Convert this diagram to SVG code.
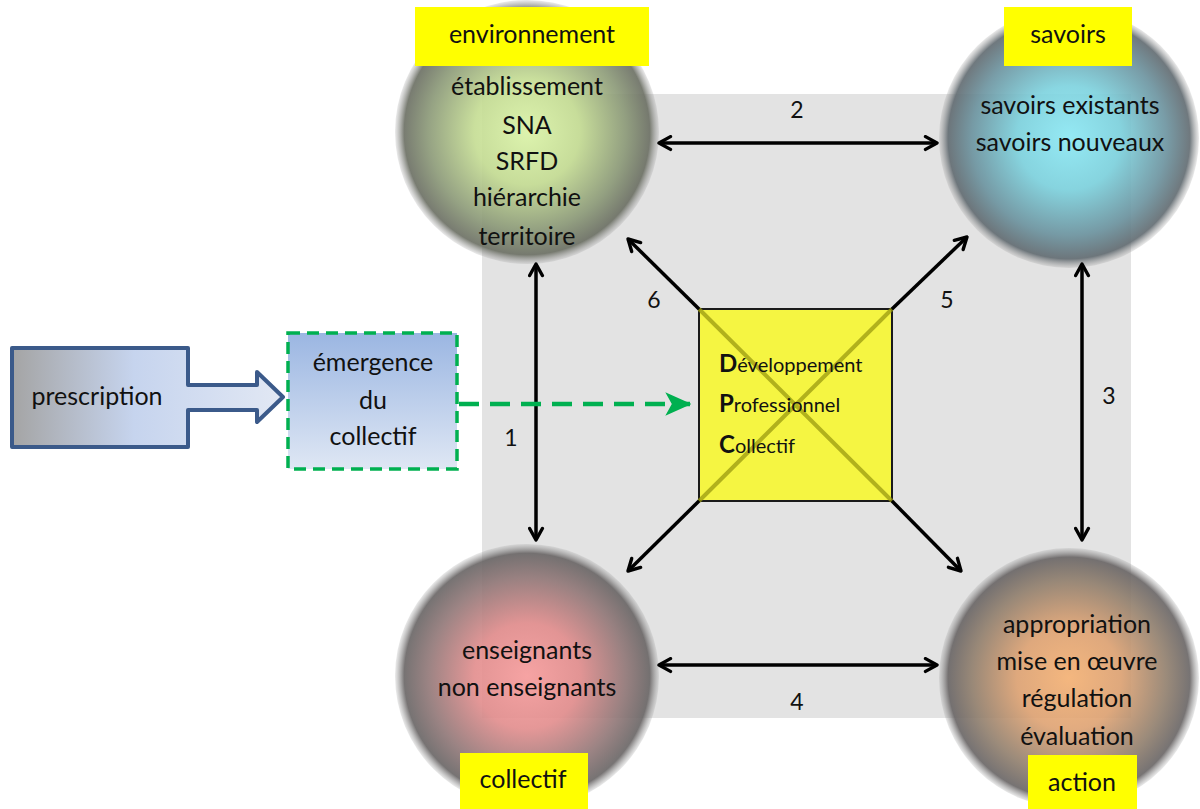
<svg xmlns="http://www.w3.org/2000/svg" width="1200" height="809" viewBox="0 0 1200 809">
<defs>
<style>
text{font-family:Lato,"Liberation Sans",sans-serif;fill:#111;text-anchor:middle}
.t{font-size:25px}
.n{font-size:23px}
.lab{fill:#ffff00}
.ball{fill-opacity:0.9}
.arr{stroke:#000;stroke-width:3.5;fill:none;marker-start:url(#ah);marker-end:url(#ah)}
.one{stroke:#000;stroke-width:3.5;fill:none;marker-end:url(#ah)}
</style>
<marker id="ah" viewBox="0 0 20 20" refX="17.5" refY="10" markerWidth="17" markerHeight="17" orient="auto-start-reverse" markerUnits="userSpaceOnUse">
<path d="M4,2.5 L17.5,10 L4,17.5" fill="none" stroke="#000" stroke-width="4" stroke-linecap="round" stroke-linejoin="round"/>
</marker>
<marker id="gh" viewBox="0 0 10 10" refX="9.5" refY="5" markerWidth="26" markerHeight="26" orient="auto" markerUnits="userSpaceOnUse">
<path d="M0,0.5 L10,5 L0,9.5 L2.5,5 Z" fill="#00b050"/>
</marker>
<radialGradient id="gEnv" cx="0.5" cy="0.5" r="0.5">
<stop offset="0" stop-color="#dcf5a8"/>
<stop offset="0.4" stop-color="#c4dc92"/>
<stop offset="0.75" stop-color="#8a9876"/>
<stop offset="0.93" stop-color="#6a6e62"/>
<stop offset="1" stop-color="#909090" stop-opacity="0.2"/>
</radialGradient>
<radialGradient id="gSav" cx="0.5" cy="0.5" r="0.5">
<stop offset="0" stop-color="#8ceaf6"/>
<stop offset="0.4" stop-color="#7cd2de"/>
<stop offset="0.75" stop-color="#6a929e"/>
<stop offset="0.93" stop-color="#606a70"/>
<stop offset="1" stop-color="#909090" stop-opacity="0.2"/>
</radialGradient>
<radialGradient id="gCol" cx="0.5" cy="0.5" r="0.5">
<stop offset="0" stop-color="#f89c9c"/>
<stop offset="0.4" stop-color="#e28c8c"/>
<stop offset="0.75" stop-color="#907676"/>
<stop offset="0.93" stop-color="#686464"/>
<stop offset="1" stop-color="#909090" stop-opacity="0.2"/>
</radialGradient>
<radialGradient id="gAct" cx="0.5" cy="0.5" r="0.5">
<stop offset="0" stop-color="#f6b274"/>
<stop offset="0.4" stop-color="#dea272"/>
<stop offset="0.75" stop-color="#907e6c"/>
<stop offset="0.93" stop-color="#686464"/>
<stop offset="1" stop-color="#909090" stop-opacity="0.2"/>
</radialGradient>
<linearGradient id="gEm" x1="0" y1="0" x2="0" y2="1">
<stop offset="0" stop-color="#9bb6e2"/>
<stop offset="1" stop-color="#dfe7f4"/>
</linearGradient>
<linearGradient id="gPr" x1="0" y1="0" x2="1" y2="0">
<stop offset="0" stop-color="#a4a4a4"/>
<stop offset="0.45" stop-color="#c6d4ee"/>
<stop offset="1" stop-color="#e2e8f4"/>
</linearGradient>
</defs>
<rect width="1200" height="809" fill="#fff"/>
<rect id="background" x="482" y="94" width="649" height="624" fill="#e3e3e3"/>

<g id="node-environnement">
<circle class="ball" cx="527" cy="132" r="132" fill="url(#gEnv)"/>
<rect class="lab" x="415" y="7" width="234" height="59"/>
<text class="t" x="532" y="43">environnement</text>
<text class="t" x="527" y="95">établissement</text>
<text class="t" x="527" y="134">SNA</text>
<text class="t" x="527" y="170">SRFD</text>
<text class="t" x="527" y="206">hiérarchie</text>
<text class="t" x="527" y="245">territoire</text>
</g>

<g id="node-savoirs">
<circle class="ball" cx="1069" cy="138" r="130" fill="url(#gSav)"/>
<rect class="lab" x="1004" y="7" width="128" height="59"/>
<text class="t" x="1068" y="43">savoirs</text>
<text class="t" x="1070" y="114">savoirs existants</text>
<text class="t" x="1070" y="151">savoirs nouveaux</text>
</g>

<g id="node-collectif">
<circle class="ball" cx="527" cy="676" r="132" fill="url(#gCol)"/>
<rect class="lab" x="460" y="753" width="128" height="56"/>
<text class="t" x="523" y="788">collectif</text>
<text class="t" x="527" y="659">enseignants</text>
<text class="t" x="527" y="696">non enseignants</text>
</g>

<g id="node-action">
<circle class="ball" cx="1069" cy="678" r="130" fill="url(#gAct)"/>
<rect class="lab" x="1028" y="755" width="109" height="54"/>
<text class="t" x="1082" y="791">action</text>
<text class="t" x="1077" y="633">appropriation</text>
<text class="t" x="1077" y="670">mise en œuvre</text>
<text class="t" x="1077" y="707">régulation</text>
<text class="t" x="1077" y="745">évaluation</text>
</g>

<g id="node-dpc">
<rect x="699" y="309" width="193" height="192" fill="#f5f542" stroke="#1a1a1a" stroke-width="2"/>
<path d="M699,309 L892,501 M892,309 L699,501" stroke="#9a9a10" stroke-opacity="0.75" stroke-width="4"/>
<text x="719" y="372" style="text-anchor:start;font-size:20px"><tspan style="font-size:24px;font-weight:bold">D</tspan>éveloppement</text>
<text x="719" y="412" style="text-anchor:start;font-size:20px"><tspan style="font-size:24px;font-weight:bold">P</tspan>rofessionnel</text>
<text x="719" y="453" style="text-anchor:start;font-size:20px"><tspan style="font-size:24px;font-weight:bold">C</tspan>ollectif</text>
</g>

<g id="node-emergence">
<rect x="288" y="333" width="169" height="136" fill="url(#gEm)" stroke="#00b050" stroke-width="3.5" stroke-dasharray="12,7"/>
<text class="t" x="373" y="371">émergence</text>
<text class="t" x="373" y="409">du</text>
<text class="t" x="373" y="445">collectif</text>
</g>

<g id="node-prescription">
<path d="M12,348 L188,348 L188,385 L257,385 L257,372 L283,397 L257,422 L257,410 L188,410 L188,447 L12,447 Z" fill="url(#gPr)" stroke="#3b5a8a" stroke-width="4" stroke-linejoin="round"/>
<text class="t" x="97" y="405">prescription</text>
</g>

<g id="connectors">
<line class="arr" x1="659" y1="143" x2="937" y2="143"/>
<line class="arr" x1="659" y1="665" x2="937" y2="665"/>
<line class="arr" x1="536" y1="264" x2="536" y2="540"/>
<line class="arr" x1="1082" y1="264" x2="1082" y2="540"/>
<line class="one" x1="699" y1="309" x2="628" y2="239"/>
<line class="one" x1="892" y1="309" x2="967" y2="237"/>
<line class="one" x1="699" y1="501" x2="628" y2="571"/>
<line class="one" x1="892" y1="501" x2="961" y2="571"/>
<line x1="459" y1="404" x2="690" y2="404" stroke="#00b050" stroke-width="4.5" stroke-dasharray="20,11" marker-end="url(#gh)"/>
<text class="n" x="797" y="118">2</text>
<text class="n" x="511" y="446">1</text>
<text class="n" x="1109" y="404">3</text>
<text class="n" x="797" y="710">4</text>
<text class="n" x="654" y="308">6</text>
<text class="n" x="947" y="308">5</text>
</g>
</svg>
